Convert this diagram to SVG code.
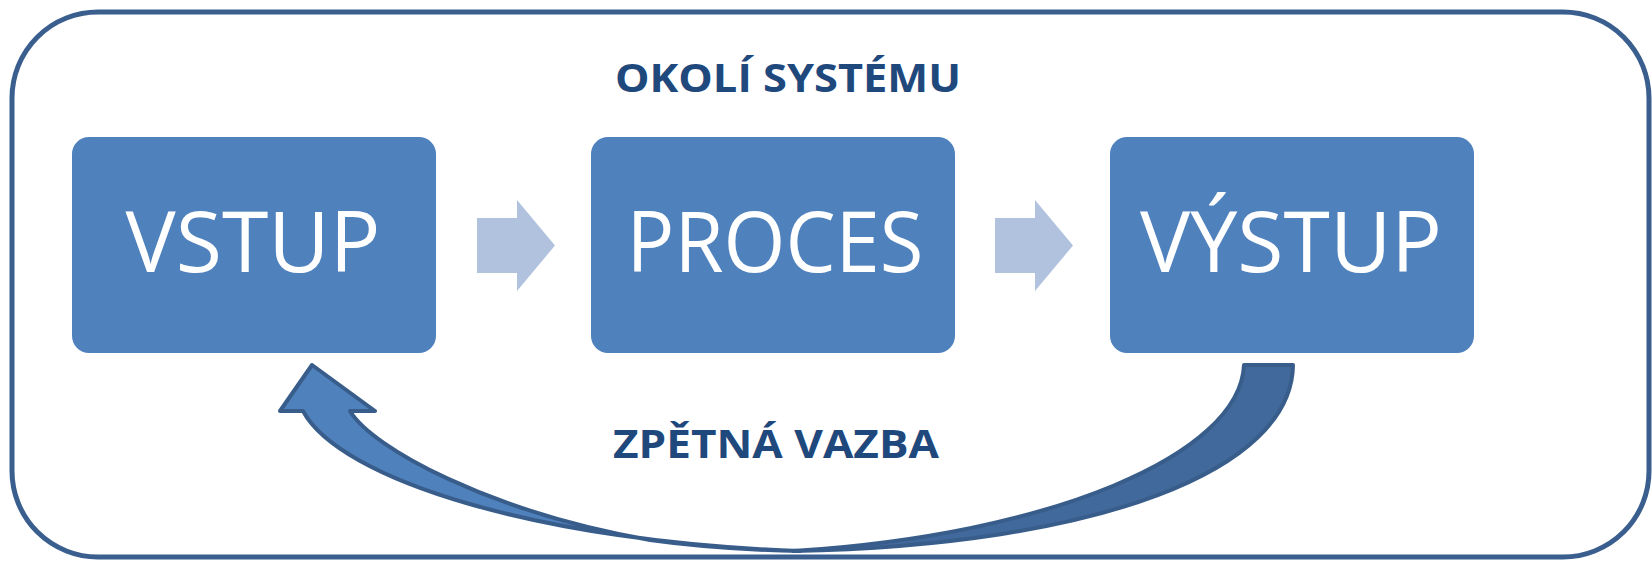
<svg xmlns="http://www.w3.org/2000/svg" width="1652" height="561" viewBox="0 0 1652 561">
  <style>
    .frame { fill: #ffffff; stroke: #3a5f8e; stroke-width: 5; }
    .box { fill: #4f81bd; }
    .box-label { font-family: "Open Sans", "Liberation Sans", sans-serif; font-size: 85px; fill: #ffffff; }
    .caption { font-family: "Open Sans", "Liberation Sans", sans-serif; font-weight: bold; font-size: 39px; fill: #1f497d; }
    .flow { fill: #b1c2de; }
    .loop-back { fill: #41699b; stroke: #385d8a; stroke-width: 4; stroke-linejoin: round; }
    .loop-front { fill: #4f81bd; stroke: #385d8a; stroke-width: 4; stroke-linejoin: round; }
  </style>

  <!-- system boundary -->
  <rect id="okoli" class="frame" x="12" y="12" width="1637" height="545" rx="86" ry="86"/>
  <text class="caption" x="788" y="92" text-anchor="middle" textLength="346" lengthAdjust="spacingAndGlyphs">OKOLÍ SYSTÉMU</text>

  <g id="vstup">
    <rect class="box" x="72" y="137" width="364" height="216" rx="17" ry="17"/>
    <text class="box-label" x="253" y="272" text-anchor="middle" textLength="255" lengthAdjust="spacingAndGlyphs">VSTUP</text>
  </g>

  <g id="proces">
    <rect class="box" x="591" y="137" width="364" height="216" rx="17" ry="17"/>
    <text class="box-label" x="775" y="272" text-anchor="middle" textLength="297" lengthAdjust="spacingAndGlyphs">PROCES</text>
  </g>

  <g id="vystup">
    <rect class="box" x="1110" y="137" width="364" height="216" rx="17" ry="17"/>
    <text class="box-label" x="1291" y="272" text-anchor="middle" textLength="302" lengthAdjust="spacingAndGlyphs">VÝSTUP</text>
  </g>

  <g id="connectors">
    <!-- forward flow -->
    <path class="flow" d="M477,218 L517,218 L517,200 L555,245.5 L517,291 L517,273 L477,273 Z"/>
    <path class="flow" d="M995,218 L1035,218 L1035,200 L1073,245.5 L1035,291 L1035,273 L995,273 Z"/>

    <!-- feedback loop: rear band from the output side -->
    <path class="loop-back" d="M1244,365 L1293,365 C1292,470 1100,545 793,551 C1050,535 1240,455 1244,365 Z"/>
    <!-- feedback loop: front band with head pointing at the input -->
    <path class="loop-front" d="M312,365 L375,411 L350,411 C372,448 490,512 650,540 C700,547 750,550 800,551 C540,542 340,480 303,411 L280,411 Z"/>
  </g>
  <text class="caption" x="776" y="458" text-anchor="middle" textLength="326" lengthAdjust="spacingAndGlyphs">ZPĚTNÁ VAZBA</text>
</svg>
